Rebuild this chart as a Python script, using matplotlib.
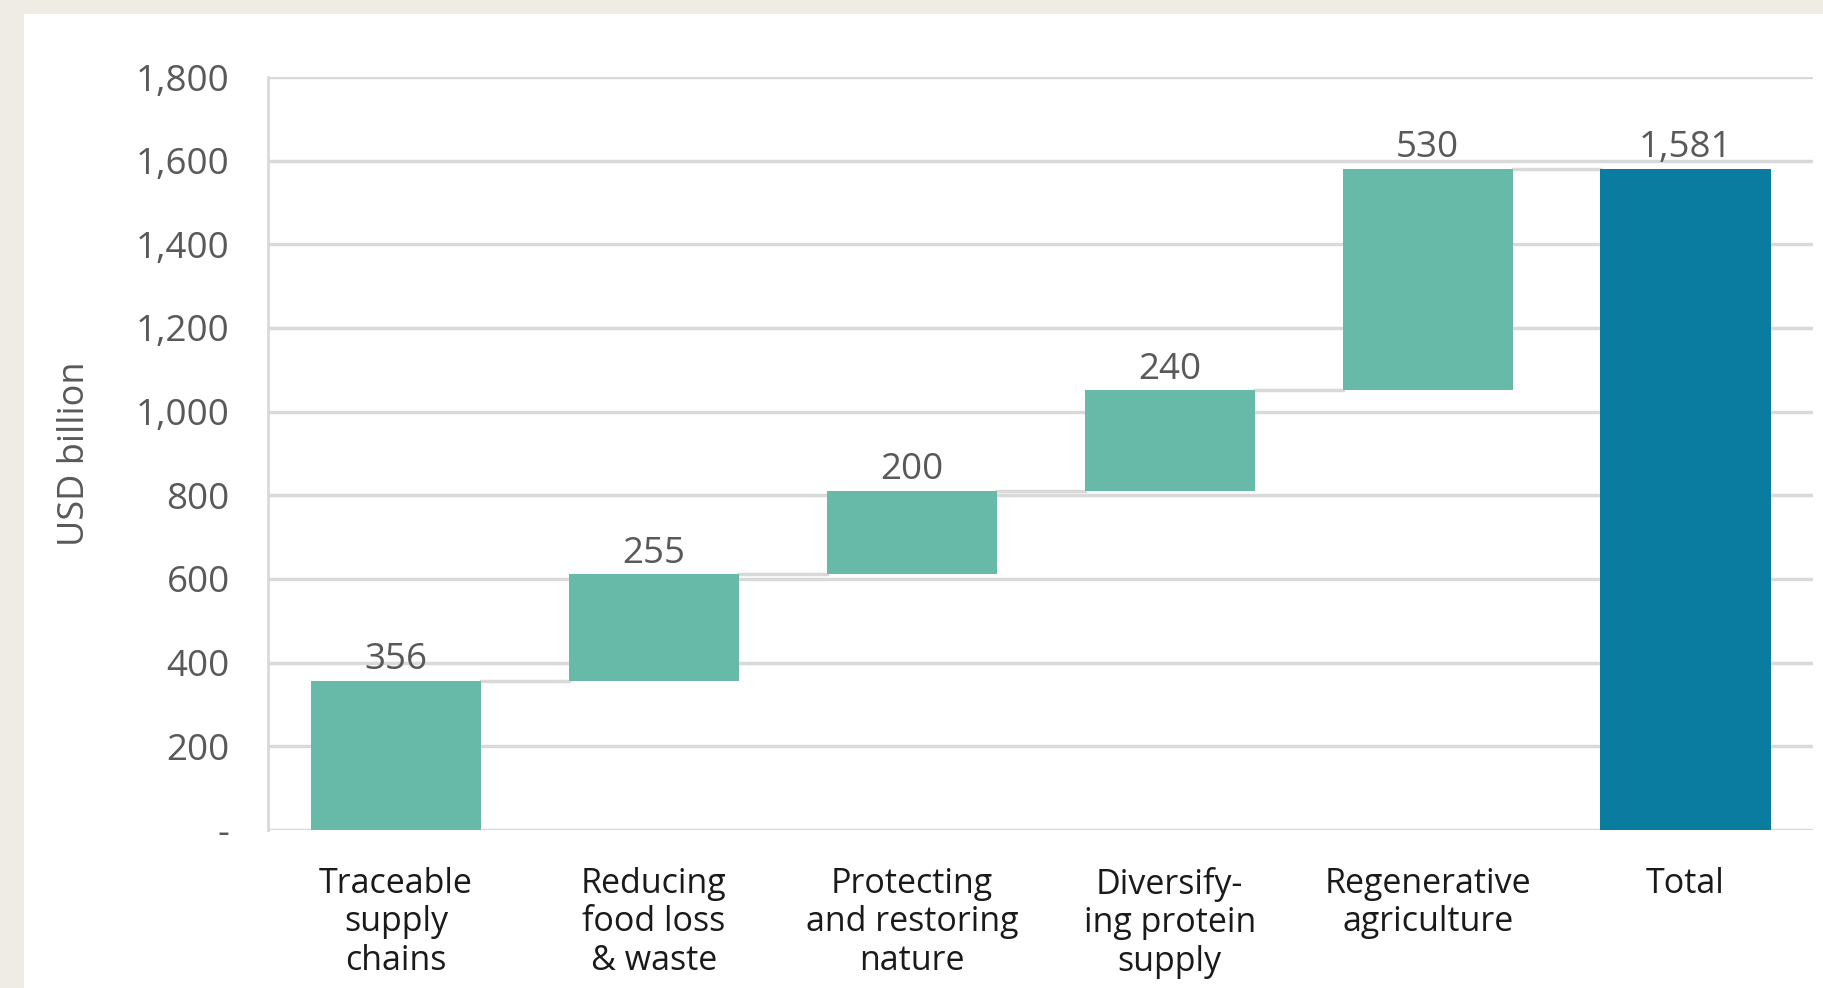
import matplotlib.pyplot as plt
import numpy as np
from matplotlib.patches import Rectangle

plt.rcParams['font.family'] = ['Open Sans', 'DejaVu Sans']

categories = ['Traceable\nsupply\nchains', 'Reducing\nfood loss\n& waste',
              'Protecting\nand restoring\nnature', 'Diversify-\ning protein\nsupply',
              'Regenerative\nagriculture', 'Total']
steps = [356, 255, 200, 240, 530]
total = 1581
labels = ['356', '255', '200', '240', '530', '1,581']
yticks = [0, 200, 400, 600, 800, 1000, 1200, 1400, 1600, 1800]
ytick_labels = ['-', '200', '400', '600', '800', '1,000', '1,200', '1,400', '1,600', '1,800']

teal = '#67b9a8'
blue = '#0a7ca0'
grid_c = '#d9d9d9'
text_c = '#595959'

fig = plt.figure(figsize=(18.23, 9.88), dpi=100, facecolor='#efebe5')
fig.patches.append(Rectangle((24 / 1823, 0), 1, 1 - 14 / 988, transform=fig.transFigure,
                             facecolor='white', edgecolor='none', zorder=-10))
ax = fig.add_axes([268 / 1823, 1 - 830 / 988, (1813 - 268) / 1823, (830 - 77) / 988])
ax.set_facecolor('none')

bases = np.concatenate([[0], np.cumsum(steps)[:-1]])
heights = list(steps) + [total]
bottoms = list(bases) + [0]
colors = [teal] * len(steps) + [blue]
x = np.arange(len(categories))
width = 0.66

ax.bar(x, heights, bottom=bottoms, width=width, color=colors, zorder=3)

# connector lines between the steps
tops = np.array(bottoms) + np.array(heights)
for i in range(len(categories) - 1):
    ax.plot([x[i] + width / 2, x[i + 1] - width / 2], [tops[i], tops[i]],
            color=grid_c, lw=2.5, zorder=2)

for xi, top, lab in zip(x, tops, labels):
    ax.annotate(lab, (xi, top), xytext=(0, 2), textcoords='offset points',
                ha='center', va='bottom', fontsize=26.5, color=text_c, zorder=4)

ax.set_xlim(-0.496, 5.494)
ax.set_ylim(0, 1800)
ax.set_yticks(yticks)
ax.set_yticklabels(ytick_labels, fontsize=26.5, color=text_c)
ax.set_xticks(x)
ax.set_xticklabels(categories, fontsize=24.5, color='#1a1a1a', linespacing=1.17)
ax.tick_params(axis='both', length=0)
ax.tick_params(axis='y', pad=27.5)
ax.tick_params(axis='x', pad=26.5)
ax.grid(axis='y', color=grid_c, lw=2.5, zorder=1)
ax.set_axisbelow(True)
for side in ['top', 'right', 'bottom']:
    ax.spines[side].set_visible(False)
ax.spines['left'].set_color(grid_c)
ax.spines['left'].set_linewidth(2)
ax.set_ylabel('USD billion', fontsize=26, color=text_c, labelpad=31)

fig.savefig('out.png', dpi=100, facecolor=fig.get_facecolor())
